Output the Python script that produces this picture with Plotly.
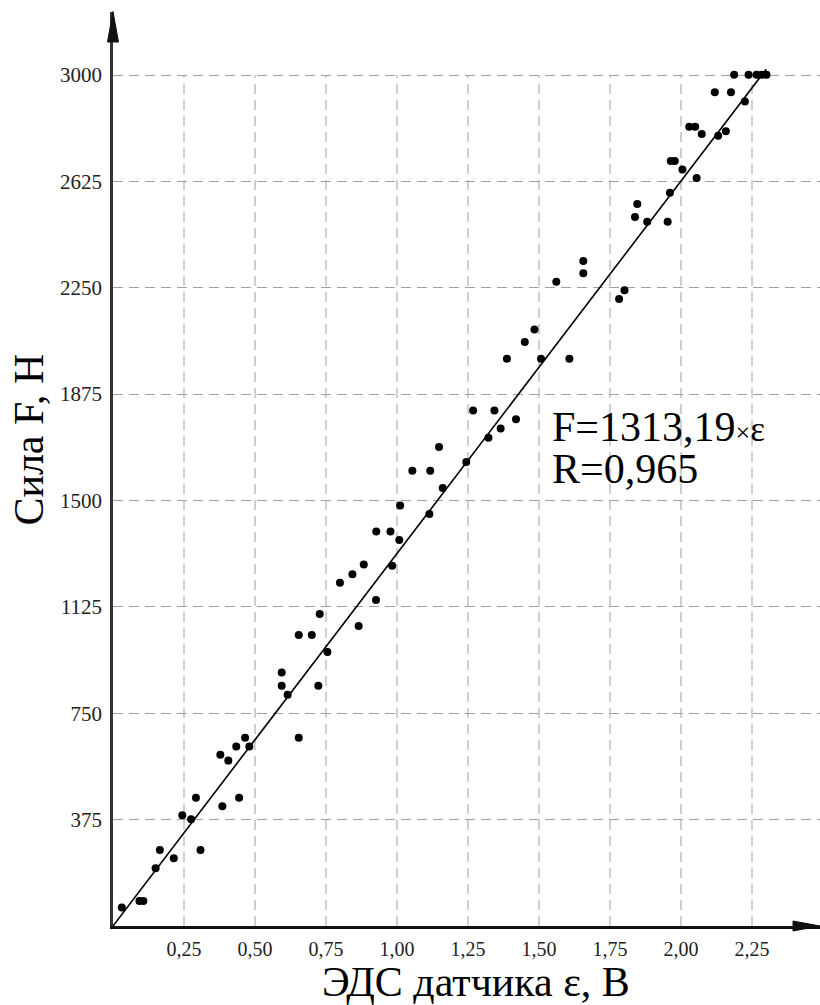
import plotly.graph_objects as go

# Measured sensor EMF (V) and applied force (N)
emf = [0.031, 0.093, 0.107, 0.150, 0.165, 0.214, 0.244, 0.275, 0.292, 0.308,
       0.385, 0.444, 0.378, 0.406, 0.434, 0.465, 0.480, 0.594, 0.594, 0.615,
       0.654, 0.654, 0.700, 0.723, 0.728, 0.755, 0.799, 0.843, 0.865, 0.883,
       0.926, 0.927, 0.977, 0.983, 1.008, 1.011, 1.054, 1.114, 1.117, 1.148,
       1.161, 1.244, 1.268, 1.322, 1.343, 1.365, 1.387, 1.419, 1.450, 1.484,
       1.507, 1.561, 1.607, 1.656, 1.656, 1.782, 1.801, 1.838, 1.846, 1.881,
       1.953, 1.961, 1.964, 1.978, 2.005, 2.029, 2.050, 2.055, 2.073, 2.119,
       2.131, 2.158, 2.176, 2.187, 2.225, 2.238, 2.266, 2.284, 2.301]
force = [65, 88, 88, 204, 268, 239, 390, 376, 452, 268,
         422, 452, 604, 583, 633, 664, 633, 894, 847, 815,
         664, 1026, 1026, 847, 1100, 966, 1210, 1240, 1058, 1274,
         1149, 1391, 1391, 1270, 1361, 1482, 1605, 1452, 1605, 1689,
         1544, 1636, 1817, 1721, 1817, 1754, 2000, 1786, 2059, 2103,
         2000, 2271, 2000, 2301, 2344, 2210, 2241, 2499, 2545, 2483,
         2483, 2585, 2697, 2697, 2667, 2818, 2818, 2637, 2792, 2939,
         2786, 2802, 2939, 3001, 2907, 3001, 3001, 3001, 3001]

# Linear fit through the origin
slope = 1313.19
r_value = 0.965
fit_x = [0.0, 2.30]
fit_y = [slope * v for v in fit_x]

x_ticks = [0.25, 0.50, 0.75, 1.00, 1.25, 1.50, 1.75, 2.00, 2.25]
x_tick_text = ["0,25", "0,50", "0,75", "1,00", "1,25", "1,50", "1,75", "2,00", "2,25"]
y_ticks = [375, 750, 1125, 1500, 1875, 2250, 2625, 3000]

W, H = 820, 1005
ML, MR, MT, MB = 113, 0, 12, 79
X_MAX = (W - ML - MR) / 284.0
Y_MAX = (H - MT - MB) * 3000.0 / 851.0

SERIF = "Liberation Serif, Times New Roman, serif"
GRID = dict(color="#a0a0a0", width=1, dash="10px,6px")

fig = go.Figure()

fig.add_trace(go.Scatter(
    x=fit_x, y=fit_y, mode="lines",
    line=dict(color="black", width=1.6),
    hoverinfo="skip", showlegend=False,
))
fig.add_trace(go.Scatter(
    x=emf, y=force, mode="markers",
    marker=dict(color="black", size=8, line=dict(width=0)),
    showlegend=False,
))

shapes = []
# vertical grid lines stop at the top tick level
for xv in x_ticks:
    shapes.append(dict(type="line", xref="x", yref="y", x0=xv, x1=xv,
                       y0=0, y1=y_ticks[-1], line=GRID, layer="below"))

# axis arrowheads
pw = W - ML - MR
ph = H - MT - MB
shapes.append(dict(
    type="path", xref="paper", yref="paper",
    path=f"M {-5.5/pw} {(ph-30)/ph} L 0 {(ph+0.5)/ph} L {5.5/pw} {(ph-30)/ph} Z",
    fillcolor="#111", line=dict(color="#111", width=1),
))
shapes.append(dict(
    type="path", xref="paper", yref="paper",
    path=f"M {(pw-27)/pw} {5/ph} L 1 0 L {(pw-27)/pw} {-5/ph} Z",
    fillcolor="#111", line=dict(color="#111", width=1),
))

annotations = [
    dict(text=f"F={slope:.2f}".replace(".", ",")
              + "<span style='font-size:26px'>×</span><span style='font-size:35px'>ε</span>",
         x=437/284, y=1759, xref="x", yref="y", xanchor="left", yanchor="middle",
         showarrow=False, font=dict(family=SERIF, size=42, color="black")),
    dict(text=f"R={r_value:.3f}".replace(".", ","),
         x=437/284, y=1610, xref="x", yref="y", xanchor="left", yanchor="middle",
         showarrow=False, font=dict(family=SERIF, size=42, color="black")),
    dict(text="Сила F, Н", textangle=-90,
         x=(28.6 - ML) / pw, y=(H - MB - 440) / ph, xref="paper", yref="paper",
         xanchor="center", yanchor="middle", showarrow=False,
         font=dict(family=SERIF, size=42, color="black")),
    dict(text="ЭДС датчика ε, В",
         x=(475.5 - ML) / pw, y=(H - MB - 982) / ph, xref="paper", yref="paper",
         xanchor="center", yanchor="middle", showarrow=False,
         font=dict(family=SERIF, size=42, color="black")),
]

fig.update_layout(
    width=W, height=H,
    margin=dict(l=ML, r=MR, t=MT, b=MB, pad=0),
    paper_bgcolor="white", plot_bgcolor="white",
    shapes=shapes, annotations=annotations,
    xaxis=dict(
        range=[0, X_MAX], tickvals=x_ticks, ticktext=x_tick_text,
        showgrid=False, zeroline=False,
        showline=True, linecolor="#111", linewidth=2.5,
        ticks="", tickfont=dict(family=SERIF, size=20, color="#222"),
        ticklabelstandoff=3,
    ),
    yaxis=dict(
        range=[0, Y_MAX], tickvals=y_ticks,
        showgrid=True, gridcolor="#a0a0a0", gridwidth=1, griddash="10px,6px",
        zeroline=False,
        showline=True, linecolor="#333", linewidth=2.5,
        ticks="", tickfont=dict(family=SERIF, size=21, color="#222"),
        ticklabelstandoff=4,
    ),
)

fig.write_html("out.html")
